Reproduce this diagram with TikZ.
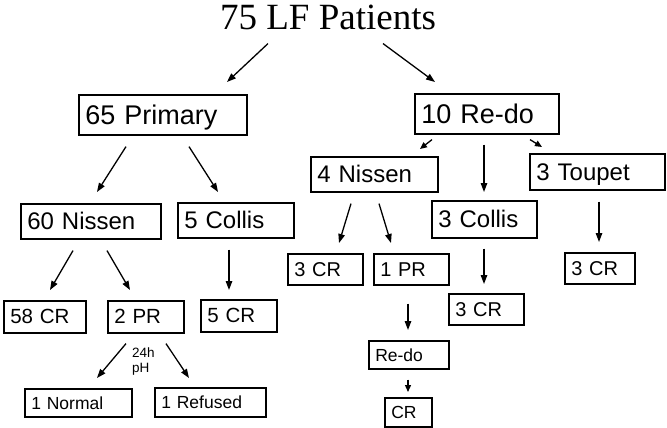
\documentclass[tikz,border=0pt]{standalone}
\usepackage{fontspec}
\setmainfont{Liberation Serif}
\newfontfamily\arial{Liberation Sans}
\usetikzlibrary{arrows.meta}
\tikzset{
  box/.style={draw, line width=1.6pt, anchor=north west, inner xsep=6.5pt, inner ysep=0pt, align=left, text depth=0pt},
  fa/.style={font=\arial\fontsize{27}{30}\selectfont},
  fb/.style={font=\arial\fontsize{24}{27}\selectfont},
  fc/.style={font=\arial\fontsize{20.5}{23}\selectfont},
  fcc/.style={font=\arial\fontsize{20}{23}\selectfont},
  fd/.style={font=\arial\fontsize{17.5}{20}\selectfont},
  arr/.style={line width=1.3pt, -{Triangle[length=9pt,width=6.5pt]}},
  sarr/.style={line width=1.3pt, -{Triangle[length=7pt,width=6pt]}},
}
\begin{document}
\begin{tikzpicture}[x=1pt,y=-1pt]
\useasboundingbox (0,0) rectangle (667,428);
% title
\node[anchor=base, inner sep=0pt, font=\fontsize{37}{40}\selectfont] (title) at (328,30) {75 LF Patients};
% level 1
\node[box, fa, text width=155pt, minimum height=40pt] (prim) at (78,94) {65 Primary};
\node[box, fa, text width=131pt, minimum height=40pt] (redo) at (414,93) {10 Re-do};
% level 2
\node[box, fb, text width=127pt, minimum height=35pt] (nis60) at (20,203) {60 Nissen};
\node[box, fb, text width=103pt, minimum height=35pt] (col5) at (177,202) {5 Collis};
\node[box, fb, text width=114pt, minimum height=35pt] (nis4) at (310,156) {4 Nissen};
\node[box, fb, text width=122pt, minimum height=36pt] (toup) at (529,153) {3 Toupet};
\node[box, fb, text width=92pt, minimum height=37pt] (col3) at (431,200) {3 Collis};
% level 3
\node[box, fc, text width=69pt, minimum height=32pt] (cr58) at (3,300) {58 CR};
\node[box, fc, text width=63pt, minimum height=32pt] (pr2) at (107,300) {2 PR};
\node[box, fc, text width=63pt, minimum height=32pt] (cr5) at (200,299) {5 CR};
\node[box, fcc, text width=62pt, minimum height=31pt] (cr3a) at (287,253) {3 CR};
\node[box, fcc, text width=62pt, minimum height=31pt] (pr1) at (373,253) {1 PR};
\node[box, fcc, text width=62pt, minimum height=31pt] (cr3b) at (448,293) {3 CR};
\node[box, fcc, text width=57pt, minimum height=31pt] (cr3c) at (564,252) {3 CR};
% level 4
\node[box, fd, text width=94pt, minimum height=28pt] (norm) at (24,388) {1 Normal};
\node[box, fd, text width=98pt, minimum height=29pt] (refu) at (154,387) {1 Refused};
\node[box, fd, text width=67pt, minimum height=28pt] (redo2) at (368,340) {Re-do};
\node[box, fd, text width=34pt, minimum height=29pt] (cr) at (384,397) {CR};
% label
\node[anchor=north west, inner sep=0pt, align=left, font=\arial\fontsize{13.5}{15}\selectfont] (lbl) at (132,347.5) {24h\\pH};
% arrows
\draw[arr] ([shift={(-60,13)}]title.south) -- ([shift={(149,-12)}]prim.north west);
\draw[arr] ([shift={(55,13)}]title.south) -- ([shift={(21,-11)}]redo.north west);
\draw[arr] ([shift={(48,11)}]prim.south west) -- ([shift={(77,-11)}]nis60.north west);
\draw[arr] ([shift={(111,11)}]prim.south west) -- ([shift={(41,-10)}]col5.north west);
\draw[sarr] ([shift={(18,5)}]redo.south west) -- ([shift={(110,-7)}]nis4.north west);
\draw[arr] ([shift={(70,10)}]redo.south west) -- ([shift={(53,-8)}]col3.north west);
\draw[sarr] ([shift={(116,5)}]redo.south west) -- ([shift={(13,-6)}]toup.north west);
\draw[arr] ([shift={(41,11)}]nis4.south west) -- ([shift={(52,-10)}]cr3a.north west);
\draw[arr] ([shift={(69,11)}]nis4.south west) -- ([shift={(18,-10)}]pr1.north west);
\draw[arr] ([shift={(53,10)}]col3.south west) -- ([shift={(36,-9)}]cr3b.north west);
\draw[arr] ([shift={(70,11)}]toup.south west) -- ([shift={(35,-10)}]cr3c.north west);
\draw[arr] ([shift={(35,18)}]pr1.south west) -- ([shift={(40,-10)}]redo2.north west);
\draw[sarr] ([shift={(40,10)}]redo2.south west) -- ([shift={(24,-5)}]cr.north west);
\draw[arr] ([shift={(53,11)}]nis60.south west) -- ([shift={(47,-10)}]cr58.north west);
\draw[arr] ([shift={(87,11)}]nis60.south west) -- ([shift={(23,-10)}]pr2.north west);
\draw[arr] ([shift={(52,11)}]col5.south west) -- ([shift={(29,-9)}]cr5.north west);
\draw[arr] ([shift={(19,10)}]pr2.south west) -- ([shift={(73,-10)}]norm.north west);
\draw[arr] ([shift={(59,10)}]pr2.south west) -- ([shift={(35,-9)}]refu.north west);
\end{tikzpicture}
\end{document}
